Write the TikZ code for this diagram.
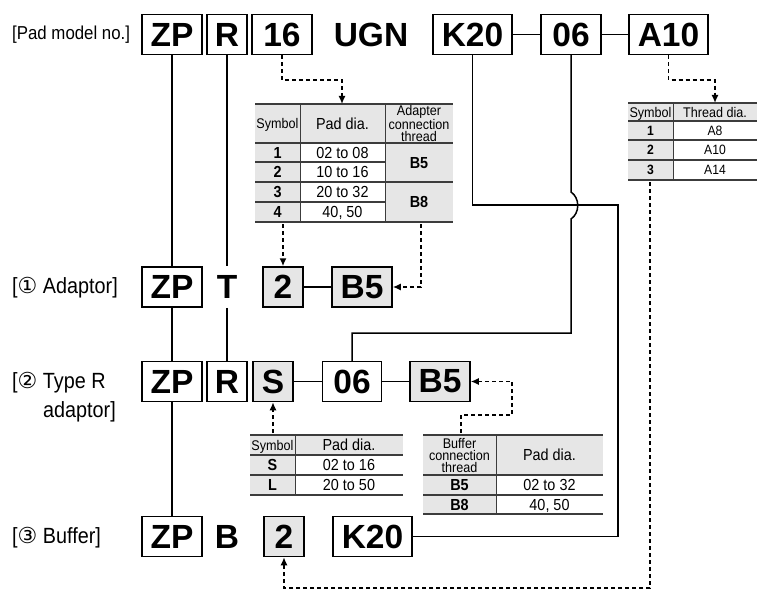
\documentclass[tikz,border=0pt]{standalone}
\usepackage{fontspec}
\setmainfont{Liberation Sans}
\newfontfamily\condfam{Liberation Sans}[FakeStretch=0.9]
\newfontfamily\circfont{DejaVu Sans}
\usetikzlibrary{arrows.meta}
\definecolor{cellgray}{HTML}{E6E6E6}
\definecolor{tabline}{HTML}{3C3C3C}
\newcommand{\bigf}{\fontsize{33.5}{33.5}\selectfont\bfseries}
\newcommand{\lblf}{\condfam\fontsize{22}{24}\selectfont}
\newcommand{\topf}{\condfam\fontsize{18.7}{20}\selectfont}
\newcommand{\tdf}{\condfam\fontsize{16}{16}\selectfont}
\newcommand{\thf}{\condfam\fontsize{14}{12}\selectfont}
\newcommand{\tsf}{\condfam\fontsize{13.5}{13.5}\selectfont}
\begin{document}
\begin{tikzpicture}[x=1pt,y=-1pt,
  bx/.style={draw, line width=1.5pt, minimum height=40pt, inner sep=0pt, font=\bigf},
  gbx/.style={bx, fill=cellgray},
  ln/.style={line width=1.5pt},
  dl/.style={line width=1.5pt, dash pattern=on 4pt off 3pt},
  arr/.style={-{Latex[length=8pt,width=7pt]}},
  lbl/.style={anchor=west, inner sep=0pt},
  cell/.style={inner sep=0pt, text depth=0pt},
  mcell/.style={inner sep=0pt, align=center},
  tl/.style={line width=1.2pt, draw=tabline},
  ttop/.style={line width=1.8pt, draw=tabline},
  tv/.style={line width=1pt, draw=tabline}]
\useasboundingbox (0,0) rectangle (759,604);

% ---------- tables ----------
% left table
\fill[cellgray] (255,104) rectangle (453,143);
\fill[cellgray] (255,143) rectangle (300,222);
\fill[cellgray] (385,143) rectangle (453,222);
\draw[ttop] (255,104) -- (453,104);
\draw[tl] (255,143) -- (453,143);
\draw[tl] (255,162) -- (385,162);
\draw[tl] (255,182) -- (453,182);
\draw[tl] (255,202) -- (385,202);
\draw[tl] (255,222) -- (453,222);
\draw[tv] (300,104) -- (300,222);
\draw[tv] (385,104) -- (385,222);
\node[cell,font=\thf] (lhs) at (277.5,123.5) {Symbol};
\node[cell,font=\tdf] (lhp) at (342.5,123.5) {Pad dia.};
\node[mcell,font=\thf] (lha) at (419,123.5) {Adapter\\connection\\thread};
\node[cell,font=\tdf\bfseries] (ls1) at (277.5,152.5) {1};
\node[cell,font=\tdf\bfseries] (ls2) at (277.5,172) {2};
\node[cell,font=\tdf\bfseries] (ls3) at (277.5,192) {3};
\node[cell,font=\tdf\bfseries] (ls4) at (277.5,212) {4};
\node[cell,font=\tdf] (lp1) at (342.5,152.5) {02 to 08};
\node[cell,font=\tdf] (lp2) at (342.5,172) {10 to 16};
\node[cell,font=\tdf] (lp3) at (342.5,192) {20 to 32};
\node[cell,font=\tdf] (lp4) at (342.5,212) {40, 50};
\node[cell,font=\tdf\bfseries] (lb5) at (419,162.5) {B5};
\node[cell,font=\tdf\bfseries] (lb8) at (419,202) {B8};
\coordinate (t1top) at (342,104);
\coordinate (t1b1) at (283,224);
\coordinate (t1b2) at (421,224);

% right table
\fill[cellgray] (628,103) rectangle (757,121);
\fill[cellgray] (628,121) rectangle (673,180);
\draw[ttop] (628,103) -- (757,103);
\draw[tl] (628,121) -- (757,121);
\draw[tl] (628,140) -- (757,140);
\draw[tl] (628,160) -- (757,160);
\draw[tl] (628,180) -- (757,180);
\draw[tv] (673,103) -- (673,180);
\node[cell,font=\thf] (rhs) at (650.5,112) {Symbol};
\node[cell,font=\thf] (rht) at (715,112) {Thread dia.};
\node[cell,font=\tsf\bfseries] (rs1) at (650.5,130.5) {1};
\node[cell,font=\tsf\bfseries] (rs2) at (650.5,150) {2};
\node[cell,font=\tsf\bfseries] (rs3) at (650.5,170) {3};
\node[cell,font=\tsf] (ra1) at (715,130.5) {A8};
\node[cell,font=\tsf] (ra2) at (715,150) {A10};
\node[cell,font=\tsf] (ra3) at (715,170) {A14};
\coordinate (t2top) at (715,103);
\coordinate (t2b) at (650,182);

% bottom-left table
\fill[cellgray] (250,435) rectangle (403,455);
\fill[cellgray] (250,455) rectangle (295,495);
\draw[ttop] (250,435) -- (403,435);
\draw[tl] (250,455) -- (403,455);
\draw[tl] (250,475) -- (403,475);
\draw[tl] (250,495) -- (403,495);
\draw[tv] (295,435) -- (295,495);
\node[cell,font=\thf] (bhs) at (272.5,445) {Symbol};
\node[cell,font=\tdf] (bhp) at (349,445) {Pad dia.};
\node[cell,font=\tdf\bfseries] (bss) at (272.5,465) {S};
\node[cell,font=\tdf\bfseries] (bsl) at (272.5,485) {L};
\node[cell,font=\tdf] (bp1) at (349,465) {02 to 16};
\node[cell,font=\tdf] (bp2) at (349,485) {20 to 50};
\coordinate (t3top) at (273,433);

% bottom-right table
\fill[cellgray] (423,435) rectangle (603,475);
\fill[cellgray] (423,475) rectangle (496,514);
\draw[ttop] (423,435) -- (603,435);
\draw[tl] (423,475) -- (603,475);
\draw[tl] (423,495) -- (603,495);
\draw[tl] (423,514) -- (603,514);
\draw[tv] (496,435) -- (496,514);
\node[mcell,font=\thf] (chb) at (459.5,455) {Buffer\\connection\\thread};
\node[cell,font=\tdf] (chp) at (549.5,455) {Pad dia.};
\node[cell,font=\tdf\bfseries] (cb5) at (459.5,485) {B5};
\node[cell,font=\tdf\bfseries] (cb8) at (459.5,504.5) {B8};
\node[cell,font=\tdf] (cp1) at (549.5,485) {02 to 32};
\node[cell,font=\tdf] (cp2) at (549.5,504.5) {40, 50};
\coordinate (t4top) at (461,433);

% ---------- top row ----------
\node[lbl,font=\topf] (pm) at (12,34.5) {[Pad model no.]};
\node[bx,minimum width=60pt] (zp0) at (172,34.5) {ZP};
\node[bx,minimum width=40pt] (r0) at (227,34.5) {R};
\node[bx,minimum width=60pt] (n16) at (282,34.5) {16};
\node[font=\bigf,inner sep=0pt] (ugn) at (371,34.5) {UGN};
\node[bx,minimum width=79pt] (k200) at (472.5,34.5) {K20};
\node[bx,minimum width=60pt] (n060) at (571,34.5) {06};
\node[bx,minimum width=79pt] (a10) at (668.5,34.5) {A10};
\draw[ln] (k200) -- (n060);
\draw[ln] (n060) -- (a10);

% ---------- row 1 ----------
\node[lbl,font=\lblf] (lab1) at (12,288) {[{\circfont ①} Adaptor]};
\node[bx,minimum width=60pt] (zp1) at (172,287) {ZP};
\node[bx,draw=none,minimum width=30pt] (t1) at (227,287) {T};
\node[gbx,minimum width=40pt] (n2a) at (283,287) {2};
\node[gbx,minimum width=60pt] (b5a) at (362,287) {B5};
\draw[ln] (n2a) -- (b5a);

% ---------- row 2 ----------
\node[lbl,font=\lblf] (lab2) at (12,383) {[{\circfont ②} Type R};
\node[lbl,font=\lblf] (lab2b) at (43,412) {adaptor]};
\node[bx,minimum width=60pt] (zp2) at (172,381.5) {ZP};
\node[bx,minimum width=40pt] (r2) at (227,381.5) {R};
\node[gbx,minimum width=40pt] (s2) at (273,381.5) {S};
\node[bx,minimum width=59pt] (n062) at (352,381.5) {06};
\node[gbx,minimum width=60pt] (b52) at (440,381.5) {B5};
\draw[ln] (s2) -- (n062);
\draw[ln] (n062) -- (b52);

% ---------- row 3 ----------
\node[lbl,font=\lblf] (lab3) at (12,538) {[{\circfont ③} Buffer]};
\node[bx,minimum width=60pt] (zp3) at (172,536.5) {ZP};
\node[bx,draw=none,minimum width=30pt] (b3) at (227,536.5) {B};
\node[gbx,minimum width=40pt] (n2c) at (284,536.5) {2};
\node[bx,minimum width=79pt] (k203) at (372.5,536.5) {K20};

% ---------- connectors ----------
\draw[ln] (zp0) -- (zp1);
\draw[ln] (zp1) -- (zp2);
\draw[ln] (zp2) -- (zp3);
\draw[ln] (r0) -- (t1);
\draw[ln] (t1) -- (r2);
\coordinate (kc) at (618,205);
\draw[ln] (k200.south) |- (kc) |- (k203.east);
\draw[ln] (n060.south) -- (571,192) .. controls (580,198) and (580,213) .. (571,219) -- (571,333) -| (n062.north);

\draw[dl,arr] (n16.south) -- ++(0,25) -| (t1top);
\draw[dl,arr] (a10.south) -- ++(0,25) -| (t2top);
\draw[dl,arr] (t1b1) -- (n2a.north);
\draw[dl,arr] (t1b2) |- (b5a.east);
\draw[dl,arr] (t2b) -- (650,588) -| (n2c.south);
\draw[dl,arr] (t3top) -- (s2.south);
\draw[dl,arr] (t4top) -- (461,415) -- (512,415) |- (b52.east);
\end{tikzpicture}
\end{document}
